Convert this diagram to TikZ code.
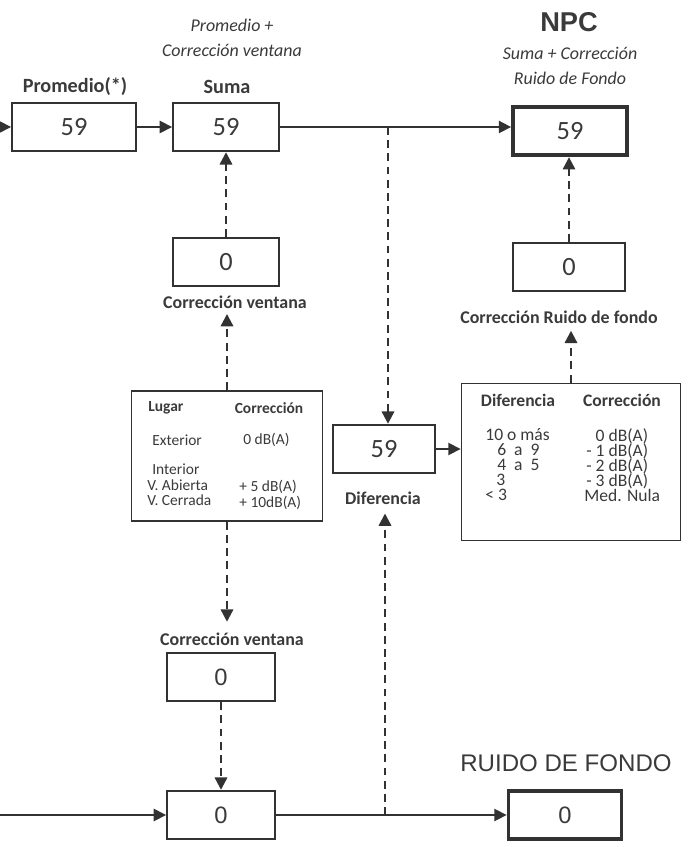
\documentclass[tikz,border=0pt]{standalone}
\usepackage{fontspec}
\setmainfont{Carlito}
\newfontfamily\arialfont{Liberation Sans}
\definecolor{inkgray}{RGB}{50,50,50}
\definecolor{textgray}{RGB}{58,58,58}
\usetikzlibrary{positioning,arrows.meta,calc}
\newcommand{\tightrows}{\lineskiplimit=-100pt\relax}

\tikzset{
  valbox/.style={draw=inkgray,line width=1.1pt,minimum height=0.97cm,text=textgray,font=\fontsize{15}{17}\selectfont},
  valboxthick/.style={valbox,line width=2.2pt},
  tablebox/.style={draw=inkgray,line width=1.1pt},
  lbl/.style={text=textgray,font=\bfseries\fontsize{10.2}{12}\selectfont,inner sep=1pt},
  lblbig/.style={text=textgray,font=\bfseries\fontsize{11.5}{13}\selectfont,inner sep=1pt},
  note/.style={text=textgray,font=\itshape\fontsize{10.2}{14}\selectfont,align=center},
  cell/.style={text=textgray,font=\fontsize{#1}{#1}\selectfont,inner sep=0pt},
  cellhead/.style={text=textgray,font=\bfseries\fontsize{#1}{#1}\selectfont,inner sep=0pt},
  rowsL/.style={text=textgray,inner sep=0pt,font=\fontsize{8.8}{8.8}\selectfont\tightrows},
  rowsR/.style={text=textgray,inner sep=0pt,font=\fontsize{10}{8.5}\selectfont\tightrows},
  flow/.style={draw=inkgray,line width=0.95pt,-{Triangle[length=7pt,width=7pt]}},
  dashflow/.style={flow,line width=1.3pt,dash pattern=on 4.5pt off 3pt},
}

\begin{document}
\begin{tikzpicture}[x=0.02cm,y=-0.02cm]
    \useasboundingbox (0,0) rectangle (687,847);

    % fila superior
    \node[lblbig] (lprom) at (75,87) {Promedio(*)};
    \node[valbox,minimum width=2.48cm] (prom) at (74,127) {59};
    \node[note] (nsuma) at (232,38) {Promedio +\\Corrección ventana};
    \node[lblbig] (lsuma) at (227,87) {Suma};
    \node[valbox,minimum width=2.12cm] (suma) at (226,127) {59};
    \node[text=textgray,font=\arialfont\bfseries\fontsize{15.5}{18}\selectfont] (tnpc) at (569,22) {NPC};
    \node[note] (nnpc) at (570,66) {Suma + Corrección\\Ruido de Fondo};
    \node[valboxthick,minimum width=2.28cm] (npc) at (570,131) {59};
    \coordinate (inA) at (-4,127);
    \coordinate (tapA) at (388,127);

    % columna izquierda
    \node[valbox,minimum width=2.12cm] (ventA) at (226,262) {0};
    \node[lbl] (lventA) at (235,302) {Corrección ventana};
    \node[tablebox,minimum width=3.82cm,minimum height=2.6cm] (lugar) at (227,456) {};
    \node[cellhead=8.8,anchor=west] (hlug) at (148,408) {Lugar};
    \node[cellhead=8.8] (hcor) at (269,408) {Corrección};
    \node[cell=8.8,anchor=west] (lext) at (152,440) {Exterior};
    \node[cell=8.8,anchor=west] (cext) at (243,440) {0 dB(A)};
    \node[rowsL,align=left,anchor=north west] (lint) at (147,464)
        {\hspace*{0.1cm}Interior\\V. Abierta\\V. Cerrada};
    \node[rowsL,align=left,anchor=north west] (cint) at (239,480)
        {+ 5 dB(A)\\+ 10dB(A)};
    \node[lbl] (lventB) at (232,639) {Corrección ventana};
    \node[valbox,font=\arialfont\fontsize{13.5}{16}\selectfont,minimum width=2.16cm] (ventB) at (221,677) {0};
    \node[valbox,font=\arialfont\fontsize{13.5}{16}\selectfont,minimum width=2.16cm] (baseB) at (221,815) {0};
    \coordinate (inB) at (-4,815);
    \coordinate (tapB) at (385,815);

    % centro
    \node[valbox,minimum width=2.04cm] (dif) at (384,449) {59};
    \node[lbl] (ldif) at (383,498) {Diferencia};

    % columna derecha
    \node[valbox,minimum width=2.24cm] (rfc) at (569,267) {0};
    \node[lbl] (lrfc) at (559,317) {Corrección Ruido de fondo};
    \node[tablebox,minimum width=4.38cm,minimum height=3.14cm] (tabla) at (571,462) {};
    \node[cellhead=10] (hdif) at (518,400) {Diferencia};
    \node[cellhead=10] (hcrf) at (622,400) {Corrección};
    \node[rowsR,align=left,anchor=north west] (drows) at (485,428.5)
        {10 o más\\\hspace*{0.24cm}6\ \ a\ \ 9\\\hspace*{0.24cm}4\ \ a\ \ 5\\\hspace*{0.22cm}3\\< 3};
    \node[rowsR,align=right,anchor=north east] (crows) at (648.5,428.5)
        {0 dB(A)\\- 1 dB(A)\\- 2 dB(A)\\- 3 dB(A)\hspace*{0.04cm}\\Med. Nula\hspace*{-0.24cm}};
    \node[text=textgray,font=\arialfont\fontsize{13.7}{16}\selectfont] (trf) at (566,763) {RUIDO DE FONDO};
    \node[valboxthick,font=\arialfont\fontsize{13.5}{16}\selectfont,minimum width=2.26cm] (rf) at (565,815) {0};

    % flechas
    \draw[flow] (inA) -- (prom);
    \draw[flow] (prom) -- (suma);
    \draw[flow] (suma.east) -- (suma.east -| npc.west);
    \draw[dashflow] (ventA) -- (suma);
    \draw[dashflow,shorten >=2pt] (lugar.north) -- (lugar.north |- lventA.south);
    \draw[dashflow,shorten >=5pt] (lugar.south) -- (lugar.south |- lventB.north);
    \draw[dashflow] (ventB) -- (baseB);
    \draw[flow] (inB) -- (baseB);
    \draw[flow] (baseB.east) -- (baseB.east -| rf.west);
    \draw[dashflow] (tapA) -- (tapA |- dif.north);
    \draw[dashflow,shorten >=4pt] (tapB) -- (tapB |- ldif.south);
    \draw[flow] (dif.east) -- (dif.east -| tabla.west);
    \draw[dashflow,shorten >=3pt] (tabla.north) -- (tabla.north |- lrfc.south);
    \draw[dashflow] (rfc.north) -- (rfc.north |- npc.south);
\end{tikzpicture}
\end{document}
